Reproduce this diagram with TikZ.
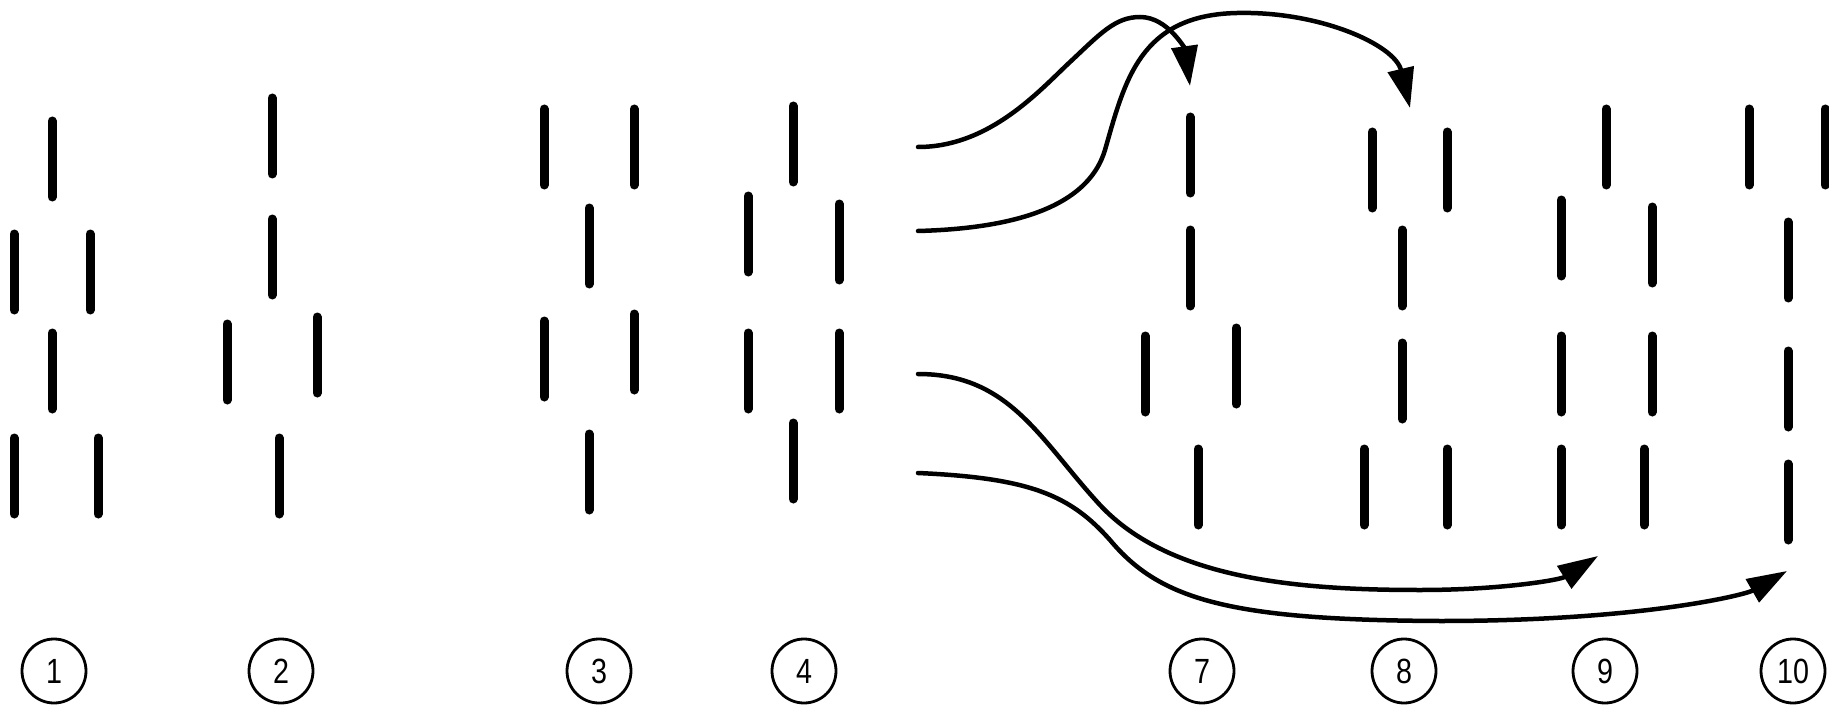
\documentclass[tikz,border=0pt]{standalone}
\usepackage{fontspec}
\setmainfont{Liberation Sans}
\newfontfamily\numfont[FakeStretch=0.82]{Liberation Sans}
\usepackage{tikz}
\usetikzlibrary{arrows.meta, positioning}

\begin{document}
\begin{tikzpicture}[
  x=1pt, y=-1pt,
  bar/.style={line width=9pt, line cap=round},
  num/.style={draw, circle, line width=2.8pt, minimum size=64pt, inner sep=0pt, font=\numfont\fontsize{35}{35}\selectfont},
  flow/.style={line width=4.5pt, line cap=round, -{Triangle[length=40pt, width=26pt]}}
]
\useasboundingbox (0,0) rectangle (1829,706);

\foreach \x/\y in {52/159, 14/272, 90/272, 52/371, 14/476, 98/476}
  \draw[bar] (\x,\y-38) -- (\x,\y+38);
\foreach \x/\y in {272/136, 272/257, 227/362, 317/355, 279/476}
  \draw[bar] (\x,\y-38) -- (\x,\y+38);
\foreach \x/\y in {544/147, 634/147, 589/246, 544/359, 634/352, 589/472}
  \draw[bar] (\x,\y-38) -- (\x,\y+38);
\foreach \x/\y in {793/144, 748/234, 839/242, 748/371, 839/371, 793/461}
  \draw[bar] (\x,\y-38) -- (\x,\y+38);
\foreach \x/\y in {1190/155, 1190/268, 1145/374, 1236/366, 1198/487}
  \draw[bar] (\x,\y-38) -- (\x,\y+38);
\foreach \x/\y in {1372/170, 1447/170, 1402/268, 1402/381, 1364/487, 1447/487}
  \draw[bar] (\x,\y-38) -- (\x,\y+38);
\foreach \x/\y in {1606/147, 1561/238, 1652/245, 1561/374, 1652/374, 1561/487, 1644/487}
  \draw[bar] (\x,\y-38) -- (\x,\y+38);
\foreach \x/\y in {1749/147, 1825/147, 1788/260, 1788/389, 1788/502}
  \draw[bar] (\x,\y-38) -- (\x,\y+38);

\node[num] (n1) at (54,671) {1};
\node[num] (n2) at (281,671) {2};
\node[num] (n3) at (599,671) {3};
\node[num] (n4) at (804,671) {4};
\node[num] (n7) at (1202,671) {7};
\node[num] (n8) at (1404,671) {8};
\node[num] (n9) at (1605,671) {9};
\node[num] (n10) at (1793,671) {10};

\coordinate (ina) at (918,147);
\coordinate (inb) at (918,231);
\coordinate (inc) at (918,374);
\coordinate (ind) at (918,473);
\coordinate (outa) at (1190,86);
\coordinate (outb) at (1410,108);
\coordinate (outc) at (1598,556);
\coordinate (outd) at (1787,571);

\draw[flow] (ina) .. controls (990,147) and (1040,90) .. (1070,62)
  .. controls (1100,34) and (1115,17) .. (1140,17)
  .. controls (1168,17) and (1185,50) .. (outa);
\draw[flow] (inb) .. controls (1030,228) and (1090,200) .. (1105,150)
  .. controls (1125,80) and (1140,15) .. (1237,13)
  .. controls (1320,11) and (1395,45) .. (outb);
\draw[flow] (inc) .. controls (1010,374) and (1040,440) .. (1100,505)
  .. controls (1170,580) and (1300,590) .. (1420,590)
  .. controls (1500,590) and (1560,580) .. (outc);
\draw[flow] (ind) .. controls (1030,478) and (1070,495) .. (1110,540)
  .. controls (1160,600) and (1230,620) .. (1440,621)
  .. controls (1640,621) and (1745,595) .. (outd);
\end{tikzpicture}
\end{document}
